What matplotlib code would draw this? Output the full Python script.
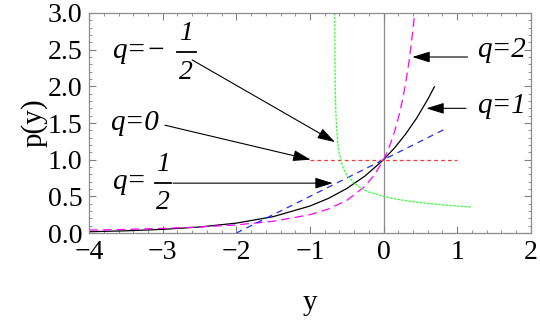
import matplotlib
matplotlib.use('Agg')
from matplotlib import pyplot as plt
from matplotlib.ticker import MultipleLocator, FormatStrFormatter

plt.rcParams['font.family'] = ['Liberation Serif', 'DejaVu Serif']

# values
y_q1 = [-4.0, -3.5, -3.0, -2.5, -2.0, -1.5, -1.0, -0.75, -0.5, -0.25, 0.0, 0.15, 0.3, 0.45, 0.6, 0.69]
p_q1 = [0.018, 0.030, 0.050, 0.082, 0.135, 0.223, 0.368, 0.472, 0.607, 0.779, 1.0, 1.162, 1.350, 1.568, 1.822, 1.994]

y_q2 = [-4.0, -3.5, -3.0, -2.5, -2.0, -1.5, -1.0, -0.75, -0.5, -0.25, -0.125, 0.0, 0.05, 0.1, 0.15, 0.2, 0.25, 0.3, 0.35, 0.4, 0.423]
p_q2 = [0.040, 0.049, 0.063, 0.082, 0.111, 0.160, 0.250, 0.327, 0.444, 0.640, 0.790, 1.0, 1.108, 1.235, 1.384, 1.563, 1.778, 2.041, 2.367, 2.778, 3.0]

y_qhalf = [-2.0, 0.0, 0.84]
p_qhalf = [0.0, 1.0, 1.42]

y_q0 = [-1.0, 1.0]
p_q0 = [1.0, 1.0]

y_qneg = [-0.6636, -0.663, -0.66, -0.655, -0.65, -0.64, -0.62, -0.6, -0.55, -0.5, -0.4, -0.3, -0.2, -0.1, 0.0, 0.2, 0.4, 0.6, 0.8, 1.0, 1.2]
p_qneg = [3.0, 2.83, 2.32, 1.93, 1.71, 1.46, 1.21, 1.08, 0.89, 0.79, 0.68, 0.61, 0.56, 0.53, 0.50, 0.458, 0.427, 0.404, 0.384, 0.368, 0.354]

fig = plt.figure(figsize=(5.4, 3.25), dpi=100)
ax = fig.add_axes([0.165, 0.283, 0.818, 0.677])

ax.axvline(0, color='0.55', lw=0.9, zorder=1)

ax.plot(y_q1, p_q1, color='black', lw=0.9)
ax.plot(y_q2, p_q2, color=(1, 0, 1), lw=0.9, dashes=(7, 4))
ax.plot(y_qhalf, p_qhalf, color=(0.15, 0.15, 1), lw=0.9, dashes=(5, 4))
ax.plot(y_q0, p_q0, color=(1, 0.2, 0.2), lw=0.9, dashes=(3, 2.5))
ax.plot(y_qneg, p_qneg, color=(0.2, 1, 0.2), lw=0.9, dashes=(2, 1))

ax.set_xlim(-4, 2)
ax.set_ylim(0, 3)

ax.xaxis.set_major_locator(MultipleLocator(1))
ax.xaxis.set_minor_locator(MultipleLocator(0.2))
ax.yaxis.set_major_locator(MultipleLocator(0.5))
ax.yaxis.set_minor_locator(MultipleLocator(0.1))
ax.yaxis.set_major_formatter(FormatStrFormatter('%.1f'))
ax.tick_params(which='both', direction='in', top=True, right=True, color='0.5', labelsize=20)
ax.tick_params(which='major', length=5, width=0.8, pad=5)
ax.tick_params(which='minor', length=2.5, width=0.6)
for s in ax.spines.values():
    s.set_color('0.55')
    s.set_linewidth(0.9)

ax.set_xlabel('y', fontsize=21, labelpad=18)
ax.set_ylabel('p(y)', fontsize=21, labelpad=0)

# labels: q= part, then stacked fractions drawn by hand
lab = dict(fontsize=21, fontstyle='italic', va='baseline', ha='left')
frac = dict(fontsize=20, fontstyle='italic', va='center', ha='center')
ax.text(-3.69, 2.39, 'q=\u2212', **lab)
ax.text(-2.68, 2.72, '1', **frac)
ax.text(-2.68, 2.19, '2', **frac)
ax.plot([-2.80, -2.55], [2.469, 2.469], color='black', lw=1.3)

ax.text(-3.71, 1.41, 'q=0', **lab)

ax.text(-3.69, 0.60, 'q=', **lab)
ax.text(-3.0, 0.94, '1', **frac)
ax.text(-3.0, 0.41, '2', **frac)
ax.plot([-3.11, -2.89], [0.682, 0.682], color='black', lw=1.3)

ax.text(1.27, 2.40, 'q=2', **lab)
ax.text(1.27, 1.64, 'q=1', **lab)

arrow = dict(arrowstyle='-|>,head_length=0.9,head_width=0.28', color='black', lw=0.8,
             mutation_scale=12, shrinkA=0, shrinkB=0)
ax.annotate('', xy=(-0.66, 1.24), xytext=(-2.60, 2.36), arrowprops=arrow)
ax.annotate('', xy=(-0.99, 1.0), xytext=(-2.97, 1.47), arrowprops=arrow)
ax.annotate('', xy=(-0.69, 0.68), xytext=(-2.86, 0.68), arrowprops=arrow)
ax.annotate('', xy=(0.39, 2.40), xytext=(1.14, 2.40), arrowprops=arrow)
ax.annotate('', xy=(0.58, 1.70), xytext=(1.12, 1.70), arrowprops=arrow)

fig.savefig('out.png', dpi=100)
